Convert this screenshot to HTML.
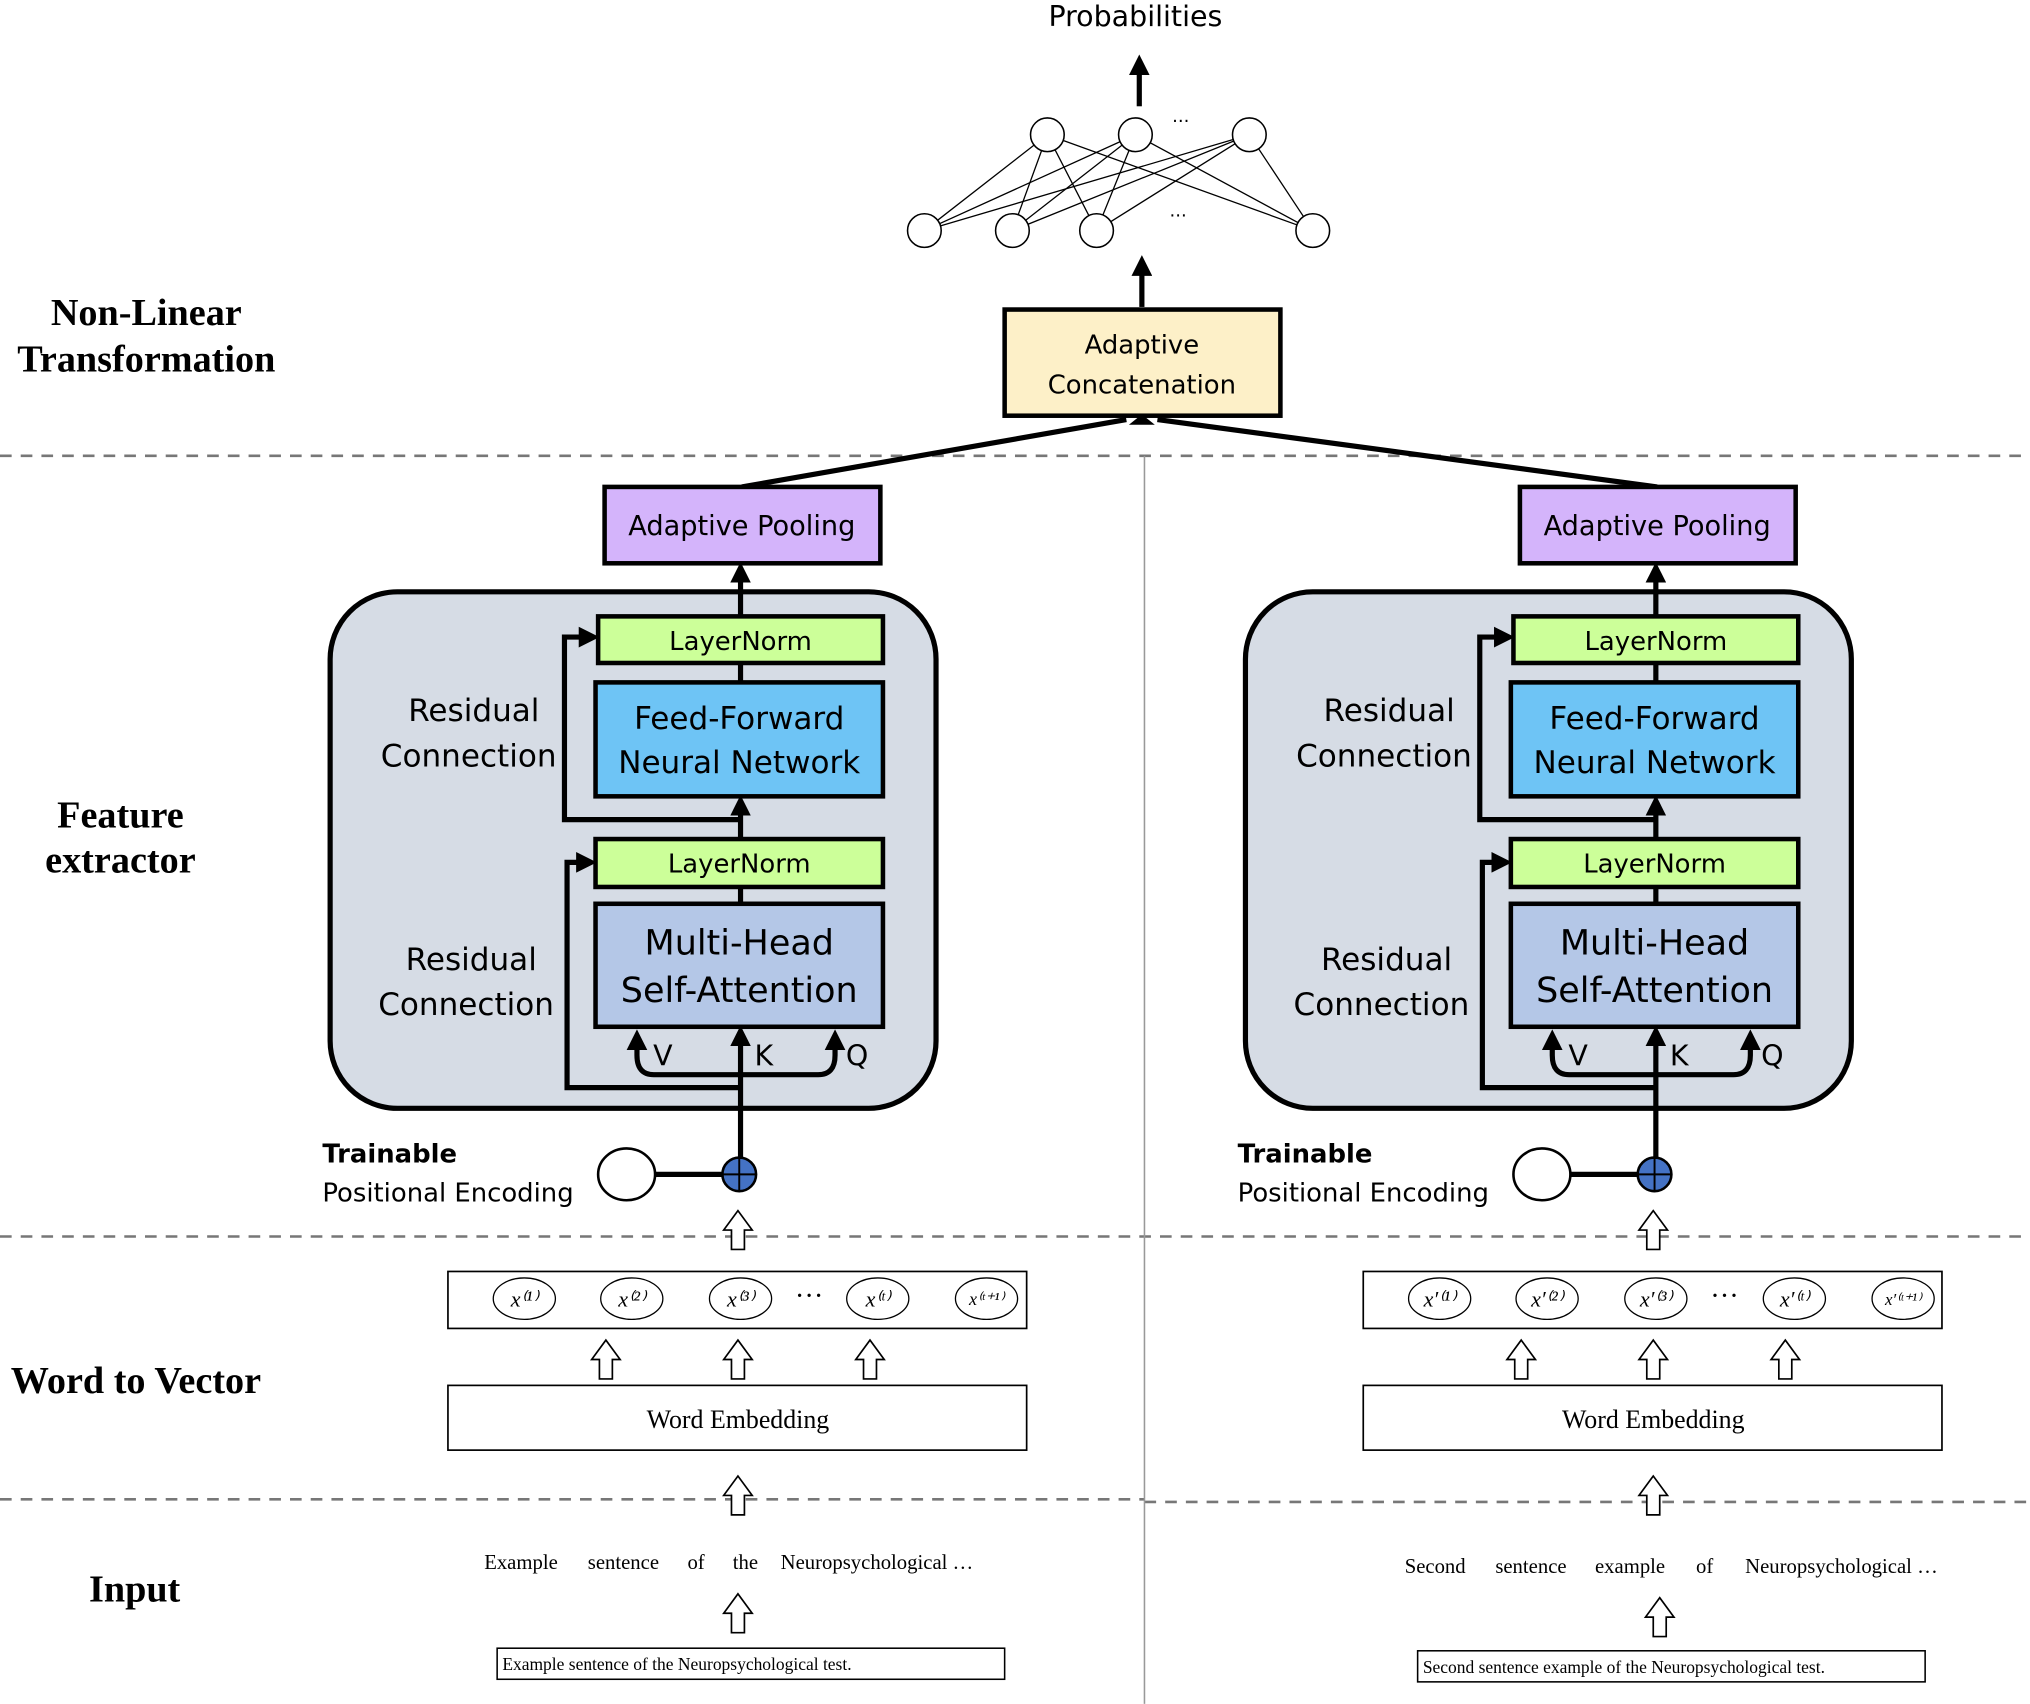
<!DOCTYPE html>
<html><head><meta charset="utf-8"><style>
html,body{margin:0;padding:0;background:#fff}
svg{display:block}
.s{font-family:"DejaVu Sans","Liberation Sans",sans-serif}
.r{font-family:"Liberation Serif",serif}
</style></head><body>
<svg width="2030" height="1704" viewBox="0 0 1568 1316" xmlns="http://www.w3.org/2000/svg">
<defs>
<marker id="a" markerWidth="4" markerHeight="4" refX="2" refY="2" orient="auto" markerUnits="strokeWidth"><path d="M0,0 L4,2 L0,4 z" fill="#000"/></marker>
<g id="ha"><path d="M-5,15 L-5,0 L-11,0 L0,-15 L11,0 L5,0 L5,15 Z" fill="#fff" stroke="#000" stroke-width="1.3"/></g>
<g id="col">
<rect x="255" y="457" width="468" height="399" rx="52" fill="#d6dce5" stroke="#000" stroke-width="4"/>
<rect x="467" y="376" width="213" height="59" fill="#d4b4fb" stroke="#000" stroke-width="3.5"/>
<text x="573" y="413" font-size="21" text-anchor="middle" class="s">Adaptive Pooling</text>
<line x1="572" y1="476" x2="572" y2="442" stroke="#000" stroke-width="4" marker-end="url(#a)"/>
<line x1="572" y1="908" x2="572" y2="800" stroke="#000" stroke-width="4" marker-end="url(#a)"/>
<line x1="572" y1="648" x2="572" y2="622" stroke="#000" stroke-width="4" marker-end="url(#a)"/>
<line x1="572" y1="527" x2="572" y2="512" stroke="#000" stroke-width="4"/>
<line x1="572" y1="698" x2="572" y2="685" stroke="#000" stroke-width="4"/>
<polyline points="573,633 436,633 436,492 455,492" fill="none" stroke="#000" stroke-width="4" marker-end="url(#a)"/>
<polyline points="572,840 438,840 438,666 453,666" fill="none" stroke="#000" stroke-width="4" marker-end="url(#a)"/>
<path d="M572,830 L505,830 Q492,830 492,815 L492,803" fill="none" stroke="#000" stroke-width="4" marker-end="url(#a)"/>
<path d="M572,830 L632,830 Q645,830 645,815 L645,803" fill="none" stroke="#000" stroke-width="4" marker-end="url(#a)"/>
<rect x="462" y="476" width="220" height="36" fill="#ccff99" stroke="#000" stroke-width="3.5"/>
<text x="572" y="502" font-size="20" text-anchor="middle" class="s">LayerNorm</text>
<rect x="460" y="527" width="222" height="88" fill="#6ec4f5" stroke="#000" stroke-width="3.5"/>
<text x="571" y="563" font-size="24" text-anchor="middle" class="s">Feed-Forward</text>
<text x="571" y="597" font-size="24" text-anchor="middle" class="s">Neural Network</text>
<rect x="460" y="648" width="222" height="37" fill="#ccff99" stroke="#000" stroke-width="3.5"/>
<text x="571" y="674" font-size="20" text-anchor="middle" class="s">LayerNorm</text>
<rect x="460" y="698" width="222" height="95" fill="#b4c7e7" stroke="#000" stroke-width="3.5"/>
<text x="571" y="737" font-size="27" text-anchor="middle" class="s">Multi-Head</text>
<text x="571" y="774" font-size="27" text-anchor="middle" class="s">Self-Attention</text>
<text x="512" y="823" font-size="22" text-anchor="middle" class="s">V</text>
<text x="590" y="823" font-size="22" text-anchor="middle" class="s">K</text>
<text x="662" y="823" font-size="22" text-anchor="middle" class="s">Q</text>
<text x="366" y="557" font-size="24" text-anchor="middle" class="s">Residual</text>
<text x="362" y="592" font-size="24" text-anchor="middle" class="s">Connection</text>
<text x="364" y="749" font-size="24" text-anchor="middle" class="s">Residual</text>
<text x="360" y="784" font-size="24" text-anchor="middle" class="s">Connection</text>
<text x="249" y="898" font-size="20" font-weight="bold" class="s">Trainable</text>
<text x="249" y="928" font-size="20" class="s">Positional Encoding</text>
<line x1="500" y1="907" x2="560" y2="907" stroke="#000" stroke-width="4"/>
<ellipse cx="484" cy="907" rx="22" ry="20" fill="#fff" stroke="#000" stroke-width="2"/>
<circle cx="571" cy="907" r="13" fill="#4472c4" stroke="#000" stroke-width="2"/>
<line x1="558" y1="907" x2="584" y2="907" stroke="#000" stroke-width="1.5"/>
<line x1="571" y1="894" x2="571" y2="920" stroke="#000" stroke-width="1.5"/>
<use href="#ha" x="570" y="950"/>
<rect x="346" y="982" width="447" height="44" fill="#fff" stroke="#000" stroke-width="1.3"/>
<text x="625" y="1008" font-size="22" text-anchor="middle" class="r">···</text>
<use href="#ha" x="468" y="1050"/><use href="#ha" x="570" y="1050"/><use href="#ha" x="672" y="1050"/>
<rect x="346" y="1070" width="447" height="50" fill="#fff" stroke="#000" stroke-width="1.3"/>
<text x="570" y="1103" font-size="20" text-anchor="middle" class="r">Word Embedding</text>
<use href="#ha" x="570" y="1155"/>
</g>
</defs>
<rect width="1568" height="1316" fill="#fff"/>
<text x="877" y="20" font-size="22" text-anchor="middle" class="s">Probabilities</text>
<line x1="880" y1="82" x2="880" y2="50" stroke="#000" stroke-width="4" marker-end="url(#a)"/>
<g stroke="#000" stroke-width="1">
<line x1="809" y1="104" x2="714" y2="178"/><line x1="809" y1="104" x2="782" y2="178"/><line x1="809" y1="104" x2="847" y2="178"/><line x1="809" y1="104" x2="1014" y2="178"/>
<line x1="877" y1="104" x2="714" y2="178"/><line x1="877" y1="104" x2="782" y2="178"/><line x1="877" y1="104" x2="847" y2="178"/><line x1="877" y1="104" x2="1014" y2="178"/>
<line x1="965" y1="104" x2="714" y2="178"/><line x1="965" y1="104" x2="782" y2="178"/><line x1="965" y1="104" x2="847" y2="178"/><line x1="965" y1="104" x2="1014" y2="178"/>
</g>
<g fill="#fff" stroke="#000" stroke-width="1.2">
<circle cx="809" cy="104" r="13"/><circle cx="877" cy="104" r="13"/><circle cx="965" cy="104" r="13"/>
<circle cx="714" cy="178" r="13"/><circle cx="782" cy="178" r="13"/><circle cx="847" cy="178" r="13"/><circle cx="1014" cy="178" r="13"/>
</g>
<text x="912" y="98" font-size="14" text-anchor="middle" class="s">···</text>
<text x="910" y="171" font-size="14" text-anchor="middle" class="s">···</text>
<line x1="882" y1="237" x2="882" y2="205" stroke="#000" stroke-width="4" marker-end="url(#a)"/>
<rect x="776" y="239" width="213" height="82" fill="#fdf0c8" stroke="#000" stroke-width="3.5"/>
<text x="882" y="273" font-size="20" text-anchor="middle" class="s">Adaptive</text>
<text x="882" y="304" font-size="20" text-anchor="middle" class="s">Concatenation</text>
<g class="r" font-weight="bold" font-size="29.5" text-anchor="middle">
<text x="113" y="251">Non-Linear</text><text x="113" y="287">Transformation</text>
<text x="93" y="639">Feature</text><text x="93" y="674">extractor</text>
<text x="105" y="1076">Word to Vector</text>
<text x="104" y="1237">Input</text>
</g>
<g stroke="#777" stroke-width="2" stroke-dasharray="9,7">
<line x1="0" y1="352" x2="1568" y2="352"/>
<line x1="0" y1="955" x2="1568" y2="955"/>
<line x1="0" y1="1158" x2="884" y2="1158"/>
<line x1="884" y1="1160" x2="1568" y2="1160"/>
</g>
<line x1="884" y1="352" x2="884" y2="1316" stroke="#999" stroke-width="1.2"/>
<line x1="573" y1="376" x2="870" y2="324" stroke="#000" stroke-width="4"/>
<line x1="1280" y1="376" x2="894" y2="324" stroke="#000" stroke-width="4"/>
<path d="M872,328 L882,320 L892,328" fill="#000"/>
<use href="#col"/>
<use href="#col" x="707"/>
<g class="r" font-size="17" font-style="italic" text-anchor="middle">
<ellipse cx="405" cy="1003" rx="24" ry="16" fill="none" stroke="#000"/><text x="405" y="1009">x⁽¹⁾</text>
<ellipse cx="488" cy="1003" rx="24" ry="16" fill="none" stroke="#000"/><text x="488" y="1009">x⁽²⁾</text>
<ellipse cx="572" cy="1003" rx="24" ry="16" fill="none" stroke="#000"/><text x="572" y="1009">x⁽³⁾</text>
<ellipse cx="678" cy="1003" rx="24" ry="16" fill="none" stroke="#000"/><text x="678" y="1009">x⁽ᵗ⁾</text>
<ellipse cx="762" cy="1003" rx="24" ry="16" fill="none" stroke="#000"/><text x="762" y="1008" font-size="14">x⁽ᵗ⁺¹⁾</text>
<ellipse cx="1112" cy="1003" rx="24" ry="16" fill="none" stroke="#000"/><text x="1112" y="1009">x′⁽¹⁾</text>
<ellipse cx="1195" cy="1003" rx="24" ry="16" fill="none" stroke="#000"/><text x="1195" y="1009">x′⁽²⁾</text>
<ellipse cx="1279" cy="1003" rx="24" ry="16" fill="none" stroke="#000"/><text x="1279" y="1009">x′⁽³⁾</text>
<ellipse cx="1386" cy="1003" rx="24" ry="16" fill="none" stroke="#000"/><text x="1386" y="1009">x′⁽ᵗ⁾</text>
<ellipse cx="1470" cy="1003" rx="24" ry="16" fill="none" stroke="#000"/><text x="1470" y="1008" font-size="13">x′⁽ᵗ⁺¹⁾</text>
</g>
<g class="r" font-size="16">
<text x="374" y="1212">Example</text><text x="454" y="1212">sentence</text><text x="531" y="1212">of</text><text x="566" y="1212">the</text><text x="603" y="1212">Neuropsychological …</text>
<text x="1085" y="1215">Second</text><text x="1155" y="1215">sentence</text><text x="1232" y="1215">example</text><text x="1310" y="1215">of</text><text x="1348" y="1215">Neuropsychological …</text>
</g>
<use href="#ha" x="570" y="1246"/>
<use href="#ha" x="1282" y="1249"/>
<rect x="384" y="1273" width="392" height="24" fill="#fff" stroke="#000" stroke-width="1.2"/>
<text x="388" y="1290" font-size="13.5" class="r">Example sentence of the Neuropsychological test.</text>
<rect x="1095" y="1275" width="392" height="24" fill="#fff" stroke="#000" stroke-width="1.2"/>
<text x="1099" y="1292" font-size="13.5" class="r">Second sentence example of the Neuropsychological test.</text>
</svg>
</body></html>
